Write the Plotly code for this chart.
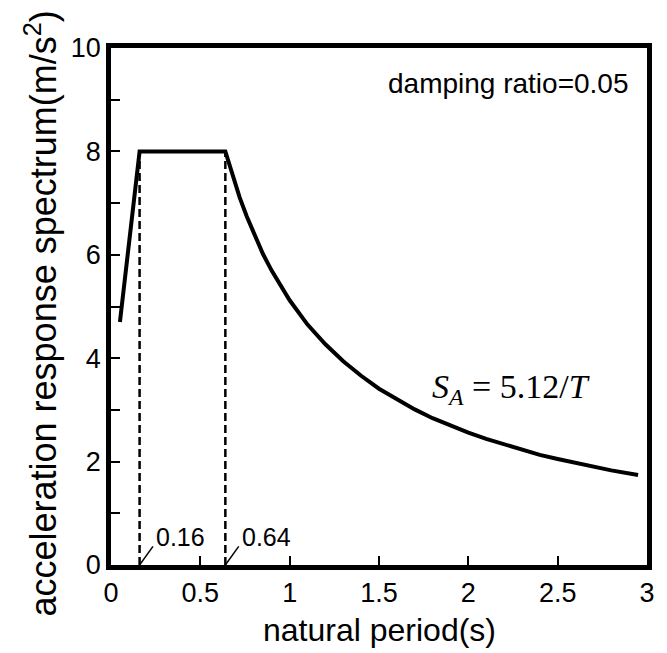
import plotly.graph_objects as go

# Data
period = [0.05, 0.16, 0.64, 0.68, 0.72, 0.76, 0.8, 0.85, 0.9, 0.95, 1.0, 1.1, 1.2, 1.3, 1.4, 1.5,
          1.6, 1.7, 1.8, 1.9, 2.0, 2.1, 2.2, 2.3, 2.4, 2.5, 2.6, 2.7, 2.8, 2.95]
sa = [4.7, 8.0, 8.0, 7.53, 7.11, 6.74, 6.40, 6.02, 5.69, 5.39, 5.12, 4.65, 4.27, 3.94, 3.66, 3.41,
      3.20, 3.01, 2.84, 2.69, 2.56, 2.44, 2.33, 2.23, 2.13, 2.05, 1.97, 1.90, 1.83, 1.74]
corner_periods = [0.16, 0.64]
corner_labels = ["0.16", "0.64"]
plateau = 8.0
x_ticks = [0, 0.5, 1, 1.5, 2, 2.5, 3]
x_tick_text = ["0", "0.5", "1", "1.5", "2", "2.5", "3"]
y_ticks = [0, 2, 4, 6, 8, 10]

SANS = "Liberation Sans, Arial, sans-serif"
SERIF = "Liberation Serif, Times New Roman, serif"

fig = go.Figure()
fig.add_trace(go.Scatter(x=period, y=sa, mode="lines",
                         line=dict(color="black", width=4), showlegend=False))
for cp in corner_periods:
    fig.add_trace(go.Scatter(x=[cp, cp], y=[0, plateau], mode="lines",
                             line=dict(color="black", width=2.5, dash="8px,4px"), showlegend=False))

for cp, lab in zip(corner_periods, corner_labels):
    fig.add_shape(type="line", x0=cp, y0=0, x1=cp + 0.075, y1=0.36,
                  line=dict(color="black", width=1.5))
    fig.add_annotation(x=cp + 0.08, y=0.55, text=lab, showarrow=False, xanchor="left",
                       yanchor="middle", font=dict(family=SANS, size=25, color="black"))

fig.add_annotation(x=0.97, y=0.932, xref="paper", yref="paper", text="damping ratio=0.05",
                   showarrow=False, xanchor="right", yanchor="middle",
                   font=dict(family=SANS, size=28, color="black"))
fig.add_annotation(x=2.24, y=3.4, text="<i>S</i><sub><i>A</i></sub> = 5.12/<i>T</i>",
                   showarrow=False, xanchor="center", yanchor="middle",
                   font=dict(family=SERIF, size=34, color="black"))

# axis titles
fig.add_annotation(x=0.5, y=-0.125, xref="paper", yref="paper", text="natural period(s)",
                   showarrow=False, xanchor="center", yanchor="middle",
                   font=dict(family=SANS, size=32, color="black"))
fig.add_annotation(x=-0.13, y=0.487, xref="paper", yref="paper",
                   text="acceleration response spectrum(m/s<sup>2</sup>)", textangle=-90,
                   showarrow=False, xanchor="center", yanchor="middle",
                   font=dict(family=SANS, size=36, color="black"))

axis_common = dict(showline=True, linecolor="black", linewidth=4.5, mirror=True,
                   ticks="inside", tickcolor="black", tickwidth=2, ticklen=9,
                   showgrid=False, zeroline=False,
                   tickfont=dict(family=SANS, size=27, color="black"))

fig.update_xaxes(range=[0, 3], tickvals=x_ticks, ticktext=x_tick_text, **axis_common)
fig.update_yaxes(range=[0, 10], tickvals=y_ticks,
                 minor=dict(dtick=1, ticks="inside", ticklen=9, tickwidth=2, tickcolor="black"),
                 **axis_common)

fig.update_layout(width=667, height=653, margin=dict(l=111, r=14, t=48, b=88),
                  plot_bgcolor="white", paper_bgcolor="white")

fig.write_html("out.html")
